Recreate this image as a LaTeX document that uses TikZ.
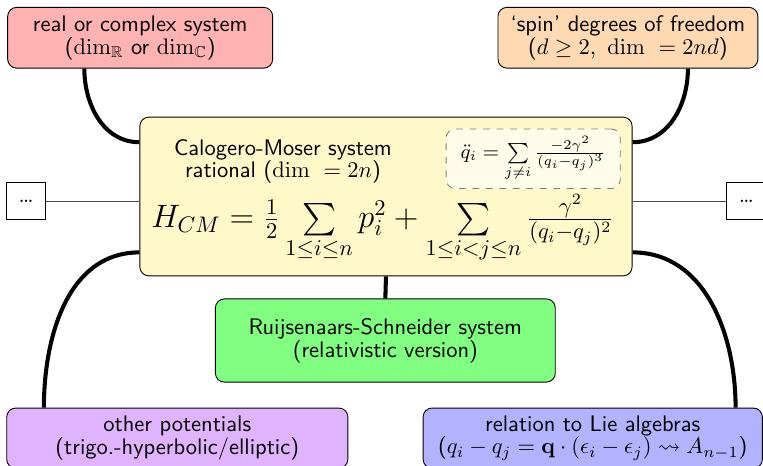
\documentclass[tikz,border=0pt]{standalone}
\usepackage{amsmath, amssymb}
\usepackage{tikz}
\usetikzlibrary{calc}
\usepackage{xcolor}
\definecolor{cmyellow}{RGB}{255,248,200}
\definecolor{potviolet}{RGB}{224,179,255}

\tikzset{
  topic/.style={draw, rounded corners, align=center, font=\sffamily\fontsize{10}{10}\selectfont},
  link/.style={line width=1.8pt},
  side/.style={draw=black!70},
}

\begin{document}
\begin{tikzpicture}
    \useasboundingbox (0,0) rectangle (11.92,-7.28);
    \clip (0,0) rectangle (11.92,-7.28);
    % the central system
    \node[topic, fill=cmyellow, minimum width=7.69cm, minimum height=2.48cm] (cm) at (6.03,-3.07) {};
    \node[align=center, font=\sffamily\fontsize{10}{10}\selectfont] (cmtitle) at (4.42,-2.52) {Calogero-Moser system\\rational ($\dim\ = 2n$)};
    \node[draw=gray, dashed, rounded corners, fill=white, fill opacity=.6, text opacity=1, minimum width=2.72cm, minimum height=.81cm, font=\small] (eom) at (8.33,-2.48) {$\ddot{q}_i = \sum\limits_{j\neq i} \frac{-2\gamma^2}{(q_i-q_j)^3}$};
    \node[font=\Large] (ham) at (5.98,-3.58) {$H_{CM} = \frac{1}{2} \sum\limits_{1\leq i\leq n} p_i^2 + \sum\limits_{1\leq i<j\leq n} \frac{\gamma^2}{(q_i-q_j)^2}$};
    % surrounding topics
    \node[topic, fill=red!30, minimum width=4.14cm, minimum height=.95cm] (real) at (2.19,-.59) {real or complex system\\($\dim_{\mathbb{R}}$ or $\dim_{\mathbb{C}}$)};
    \node[topic, fill=orange!30, minimum width=4.06cm, minimum height=.95cm] (spin) at (9.81,-.59) {`spin' degrees of freedom\\($d \geq 2,\ \dim\ = 2nd$)};
    \node[topic, fill=green!50, minimum width=5.31cm, minimum height=1.3cm] (rs) at (6.02,-5.32) {Ruijsenaars-Schneider system\\(relativistic version)};
    \node[topic, fill=potviolet, minimum width=5.33cm, minimum height=.94cm] (other) at (2.77,-6.845) {other potentials\\(trigo.-hyperbolic/elliptic)};
    \node[topic, fill=blue!30, minimum width=5.3cm, minimum height=.94cm] (lie) at (9.26,-6.845) {relation to Lie algebras\\($q_i - q_j = \mathbf{q}\cdot(\epsilon_i-\epsilon_j) \leadsto A_{n-1}$)};
    \node[draw, minimum width=.61cm, minimum height=.59cm] (dotsl) at (.41,-3.14) {\dots};
    \node[draw, minimum width=.61cm, minimum height=.59cm] (dotsr) at (11.66,-3.14) {\dots};
    % connections
    \draw[side] (dotsl.east) -- (dotsl -| cm.west);
    \draw[side] (dotsr.west) -- (dotsr -| cm.east);
    \draw[link] ($(real.south west)!.29!(real.south east)$) to[out=-90, in=180] ($(cm.north west)!.16!(cm.south west)$);
    \draw[link] ($(spin.south west)!.73!(spin.south east)$) to[out=-90, in=0] ($(cm.north east)!.16!(cm.south east)$);
    \draw[link] ($(cm.north west)!.85!(cm.south west)$) to[out=180, in=90] ($(other.north west)!.11!(other.north east)$);
    \draw[link] ($(cm.north east)!.85!(cm.south east)$) to[out=0, in=90] ($(lie.north west)!.92!(lie.north east)$);
    \draw[link] (cm.south) -- (rs.north);
\end{tikzpicture}
\end{document}
